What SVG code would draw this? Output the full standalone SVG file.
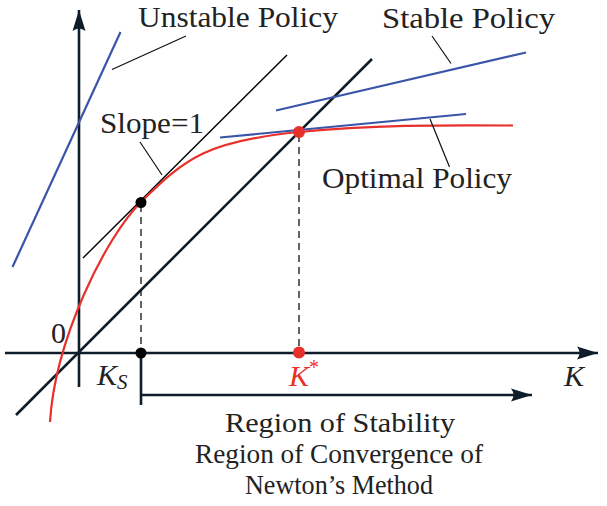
<svg xmlns="http://www.w3.org/2000/svg" width="607" height="506" viewBox="0 0 607 506">
<style>
.ax{stroke:#0f1d2b;stroke-width:2.6;fill:none}
.thin{stroke:#000;stroke-width:1.4;fill:none}
.lead{stroke:#111;stroke-width:1.2;fill:none}
.blue{stroke:#3a55a8;stroke-width:2.2;fill:none}
.red{stroke:#e8302a;stroke-width:2.2;fill:none}
.dash{stroke:#111;stroke-width:1.3;stroke-dasharray:7 5;fill:none}
.t{font-family:"Liberation Serif","Times New Roman",serif;font-size:30px;fill:#222}
.b{font-family:"Liberation Serif","Times New Roman",serif;font-size:27px;fill:#222}
.ti{font-family:"Liberation Serif","Times New Roman",serif;font-size:30px;font-style:italic;fill:#222}
.r{fill:#e8302a}
</style>
<defs>
<marker id="arr" viewBox="-23 -8 25 16" markerWidth="25" markerHeight="16" refX="0" refY="0" orient="auto" markerUnits="userSpaceOnUse">
<path d="M0,0 L-21,-6.5 Q-16,0 -21,6.5 Z" fill="#0f1d2b"/>
</marker>
</defs>
<g id="axes">
<line class="ax" x1="79" y1="387" x2="79" y2="10" marker-end="url(#arr)"/>
<line class="ax" x1="5" y1="353" x2="598" y2="353" marker-end="url(#arr)"/>
</g>
<g id="diagonal">
<line class="ax" x1="16" y1="415" x2="372" y2="59"/>
</g>
<g id="tangent">
<line class="thin" x1="83" y1="258" x2="287" y2="55"/>
</g>
<g id="policies">
<line class="blue" x1="12.5" y1="267" x2="120.5" y2="32"/>
<line class="blue" x1="276" y1="110.5" x2="526" y2="52.5"/>
<line class="blue" x1="220" y1="137.5" x2="466" y2="114"/>
</g>
<g id="curve">
<path class="red" d="M50,422 C55,340 105,238 141,202 C186,157 209,141 299,132 C369,125 440,125 513,125.5"/>
</g>
<g id="connectors">
<line class="dash" x1="141" y1="205" x2="141" y2="353"/>
<line class="dash" x1="299" y1="135" x2="299" y2="353"/>
<line class="ax" x1="141" y1="353" x2="141" y2="405"/>
<line class="ax" x1="141" y1="395" x2="532" y2="395" marker-end="url(#arr)"/>
<line class="lead" x1="112" y1="69.5" x2="186" y2="36"/>
<line class="lead" x1="140" y1="142" x2="162" y2="175"/>
<line class="lead" x1="432" y1="36" x2="451" y2="63.5"/>
<line class="lead" x1="430" y1="119" x2="449.5" y2="167"/>
</g>
<g id="points">
<circle cx="141" cy="202.5" r="5.5" fill="#000"/>
<circle cx="141" cy="353" r="5.5" fill="#000"/>
<circle class="r" cx="299" cy="132" r="6"/>
<circle class="r" cx="299" cy="352.5" r="6"/>
</g>
<g id="labels">
<text class="t" x="138" y="27" textLength="200" lengthAdjust="spacingAndGlyphs">Unstable Policy</text>
<text class="t" x="382" y="28" textLength="173" lengthAdjust="spacingAndGlyphs">Stable Policy</text>
<text class="t" x="100" y="133" textLength="104" lengthAdjust="spacingAndGlyphs">Slope=1</text>
<text class="t" x="322" y="188" textLength="190" lengthAdjust="spacingAndGlyphs">Optimal Policy</text>
<text class="t" x="51" y="343">0</text>
<text class="ti" x="97" y="385">K<tspan font-size="21" dy="4">S</tspan></text>
<text class="ti" x="289" y="386" style="fill:#e8302a">K<tspan font-size="20" font-style="normal" dy="-12">*</tspan></text>
<text class="ti" x="564" y="386">K</text>
<text class="b" x="225" y="432" textLength="230" lengthAdjust="spacingAndGlyphs">Region of Stability</text>
<text class="b" x="195" y="463" textLength="288" lengthAdjust="spacingAndGlyphs">Region of Convergence of</text>
<text class="b" x="245" y="494" textLength="188" lengthAdjust="spacingAndGlyphs">Newton’s Method</text>
</g>
</svg>
